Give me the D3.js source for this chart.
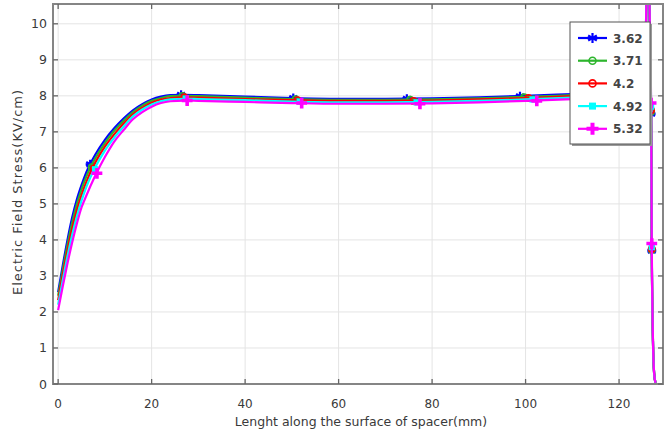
<!DOCTYPE html>
<html>
<head>
<meta charset="utf-8">
<script src="https://cdn.jsdelivr.net/npm/d3@7"></script>
<style>
  html, body { margin: 0; padding: 0; background: #fff; }
  svg { display: block; font-family: "DejaVu Sans", sans-serif; }
</style>
</head>
<body>
<svg id="chart" width="672" height="437"></svg>
<script>
// Position along the spacer surface (mm), shared by every series
const xPos = [0, 1, 2, 3, 4, 5, 6, 8, 10, 12, 14, 16, 18, 20, 22, 24, 27, 30, 40, 50, 60, 70, 80, 90, 100, 110, 120, 124, 125.5, 126.2, 126.6, 126.85, 127.0, 127.25, 127.5, 127.8];

// Electric field stress (kV/cm) for each case
const s362 = [2.55, 3.3, 4.0, 4.62, 5.12, 5.52, 5.87, 6.38, 6.78, 7.1, 7.37, 7.6, 7.77, 7.9, 7.98, 8.02, 8.03, 8.02, 7.98, 7.94, 7.92, 7.92, 7.93, 7.96, 8.0, 8.05, 8.1, 8.18, 8.45, 13, 9.6, 7.5, 3.7, 1.2, 0.3, 0.03];
const s371 = [2.45, 3.18, 3.87, 4.48, 4.99, 5.4, 5.75, 6.28, 6.69, 7.03, 7.31, 7.55, 7.73, 7.86, 7.94, 7.99, 8.0, 7.99, 7.95, 7.91, 7.89, 7.89, 7.9, 7.93, 7.97, 8.02, 8.07, 8.15, 8.43, 13, 9.65, 7.55, 3.72, 1.2, 0.3, 0.03];
const s420 = [2.33, 3.04, 3.71, 4.31, 4.82, 5.24, 5.6, 6.16, 6.59, 6.93, 7.23, 7.49, 7.67, 7.81, 7.9, 7.94, 7.96, 7.95, 7.91, 7.88, 7.86, 7.86, 7.87, 7.9, 7.94, 7.99, 8.04, 8.12, 8.4, 13, 9.7, 7.6, 3.75, 1.22, 0.3, 0.03];
const s492 = [2.2, 2.89, 3.55, 4.14, 4.65, 5.09, 5.46, 6.03, 6.48, 6.84, 7.15, 7.43, 7.62, 7.76, 7.85, 7.9, 7.92, 7.91, 7.88, 7.84, 7.82, 7.82, 7.83, 7.86, 7.9, 7.95, 8.01, 8.09, 8.38, 13, 9.75, 7.7, 3.8, 1.24, 0.3, 0.03];
const s532 = [2.05, 2.72, 3.35, 3.93, 4.45, 4.9, 5.22, 5.8, 6.3, 6.73, 7.05, 7.35, 7.55, 7.7, 7.8, 7.85, 7.87, 7.86, 7.83, 7.8, 7.78, 7.78, 7.79, 7.82, 7.86, 7.91, 7.97, 8.05, 8.35, 13, 9.8, 7.8, 3.9, 1.26, 0.3, 0.03];

// Marker positions [x, y] drawn along each curve
const m362 = [[6.85, 6.1], [26.3, 8.03], [50.3, 7.94], [74.6, 7.92], [98.8, 7.99], [126.85, 7.5], [127.0, 3.7]];
const m371 = [[7.2, 6.02], [26.6, 8.0], [50.8, 7.91], [75.3, 7.89], [99.7, 7.96], [126.85, 7.55], [127.0, 3.72]];
const m420 = [[7.6, 5.98], [27.0, 7.96], [51.2, 7.88], [76.0, 7.86], [100.6, 7.94], [126.85, 7.6], [127.0, 3.75]];
const m492 = [[7.9, 5.96], [27.3, 7.92], [51.7, 7.84], [76.7, 7.82], [101.5, 7.9], [126.85, 7.7], [127.0, 3.8]];
const m532 = [[8.3, 5.85], [27.6, 7.87], [52.1, 7.8], [77.4, 7.78], [102.4, 7.86], [126.85, 7.8], [127.0, 3.9]];

const seriesNames = ["3.62", "3.71", "4.2", "4.92", "5.32"];
const xTicks = [0, 20, 40, 60, 80, 100, 120];
const yTicks = [0, 1, 2, 3, 4, 5, 6, 7, 8, 9, 10];

const series = [
  { name: seriesNames[0], values: s362, marks: m362, color: "#0000ff", symbol: "star" },
  { name: seriesNames[1], values: s371, marks: m371, color: "#2db52d", symbol: "ring" },
  { name: seriesNames[2], values: s420, marks: m420, color: "#ff0000", symbol: "ring" },
  { name: seriesNames[3], values: s492, marks: m492, color: "#00ffff", symbol: "square" },
  { name: seriesNames[4], values: s532, marks: m532, color: "#ff00ff", symbol: "cross" }
];

const svg = d3.select("#chart");
const pLeft = 53, pRight = 663, pTop = 4, pBottom = 384;

const x = d3.scaleLinear().domain([-1.1, 129.4]).range([pLeft, pRight]);
const y = d3.scaleLinear().domain([0, 10.55]).range([pBottom, pTop]);

// Grid
const grid = svg.append("g");
grid.selectAll("line.gx").data(xTicks).join("line").attr("class", "gx")
  .attr("x1", d => x(d)).attr("x2", d => x(d))
  .attr("y1", pTop).attr("y2", pBottom)
  .attr("stroke", "#e4e4e4").attr("stroke-width", 1);
grid.selectAll("line.gy").data(yTicks).join("line").attr("class", "gy")
  .attr("x1", pLeft).attr("x2", pRight)
  .attr("y1", d => y(d)).attr("y2", d => y(d))
  .attr("stroke", "#e4e4e4").attr("stroke-width", 1);

// Curves, clipped to the plot frame
svg.append("defs").append("clipPath").attr("id", "plotClip")
  .append("rect").attr("x", pLeft).attr("y", pTop)
  .attr("width", pRight - pLeft).attr("height", pBottom - pTop);

const plot = svg.append("g").attr("clip-path", "url(#plotClip)");
const line = d3.line()
  .x((d, i) => x(xPos[i]))
  .y(d => y(d))
  .curve(d3.curveMonotoneX);

function drawSymbol(g, kind, color, cx, cy, size) {
  const s = size;
  if (kind === "star") {
    const arms = g.append("g").attr("transform", `translate(${cx},${cy})`);
    [0, 60, 120].forEach(a => {
      arms.append("line").attr("x1", -s).attr("x2", s).attr("y1", 0).attr("y2", 0)
        .attr("transform", `rotate(${a + 90})`)
        .attr("stroke", color).attr("stroke-width", 2.2);
    });
    arms.append("line").attr("x1", -s).attr("x2", s).attr("y1", 0).attr("y2", 0)
      .attr("stroke", color).attr("stroke-width", 2.2);
  } else if (kind === "ring") {
    g.append("circle").attr("cx", cx).attr("cy", cy).attr("r", s * 0.7)
      .attr("fill", "none").attr("stroke", color).attr("stroke-width", 1.6);
  } else if (kind === "square") {
    g.append("rect").attr("x", cx - s * 0.7).attr("y", cy - s * 0.7)
      .attr("width", s * 1.4).attr("height", s * 1.4).attr("fill", color);
  } else {
    g.append("path")
      .attr("d", d3.symbol().type(d3.symbolCross).size(s * s * 3.2)())
      .attr("transform", `translate(${cx},${cy})`)
      .attr("fill", color);
  }
}

series.forEach(sr => {
  plot.append("path").datum(sr.values)
    .attr("d", line)
    .attr("fill", "none")
    .attr("stroke", sr.color)
    .attr("stroke-width", 2.2)
    .attr("stroke-linejoin", "round");
  const mg = plot.append("g");
  sr.marks.forEach(p => drawSymbol(mg, sr.symbol, sr.color, x(p[0]), y(p[1]), 4.5));
});

// Frame
const frameColor = "#858585";
svg.append("rect").attr("x", pLeft).attr("y", pTop)
  .attr("width", pRight - pLeft).attr("height", pBottom - pTop)
  .attr("fill", "none").attr("stroke", frameColor).attr("stroke-width", 2);

// Inward ticks on all four sides
const tk = svg.append("g").attr("stroke", "#666").attr("stroke-width", 1.3);
xTicks.forEach(t => {
  tk.append("line").attr("x1", x(t)).attr("x2", x(t)).attr("y1", pBottom).attr("y2", pBottom - 5);
  tk.append("line").attr("x1", x(t)).attr("x2", x(t)).attr("y1", pTop).attr("y2", pTop + 5);
});
yTicks.forEach(t => {
  tk.append("line").attr("x1", pLeft).attr("x2", pLeft + 5).attr("y1", y(t)).attr("y2", y(t));
  tk.append("line").attr("x1", pRight).attr("x2", pRight - 5).attr("y1", y(t)).attr("y2", y(t));
});

// Tick labels
const labelColor = "#3a3a3a";
svg.append("g").selectAll("text").data(xTicks).join("text")
  .attr("x", d => x(d)).attr("y", 408)
  .attr("text-anchor", "middle")
  .attr("font-size", 12).attr("fill", labelColor)
  .text(d => d);
svg.append("g").selectAll("text").data(yTicks).join("text")
  .attr("x", 47).attr("y", d => y(d) + 4.5)
  .attr("text-anchor", "end")
  .attr("font-size", 12.5).attr("fill", labelColor)
  .text(d => d);

// Axis titles
svg.append("text")
  .attr("x", 361).attr("y", 426)
  .attr("text-anchor", "middle")
  .attr("font-size", 12.5).attr("fill", labelColor)
  .text("Lenght along the surface of spacer(mm)");
svg.append("text")
  .attr("transform", "translate(22,192) rotate(-90)")
  .attr("text-anchor", "middle")
  .attr("font-size", 13).attr("letter-spacing", 1)
  .attr("fill", labelColor)
  .text("Electric Field Stress(KV/cm)");

// Legend
const lg = svg.append("g");
lg.append("rect").attr("x", 572).attr("y", 24).attr("width", 80).attr("height", 122)
  .attr("fill", "#9a9a9a");
lg.append("rect").attr("x", 570).attr("y", 22).attr("width", 80).attr("height", 122)
  .attr("fill", "#fff").attr("stroke", "#555").attr("stroke-width", 1);
series.forEach((sr, i) => {
  const cy = 38 + i * 22.7;
  lg.append("line").attr("x1", 578).attr("x2", 607).attr("y1", cy).attr("y2", cy)
    .attr("stroke", sr.color).attr("stroke-width", 2.2);
  drawSymbol(lg, sr.symbol, sr.color, 592.5, cy, 5);
  lg.append("text").attr("x", 613).attr("y", cy + 4.5)
    .attr("font-size", 12).attr("font-weight", "bold").attr("fill", "#444")
    .text(sr.name);
});
</script>
</body>
</html>
